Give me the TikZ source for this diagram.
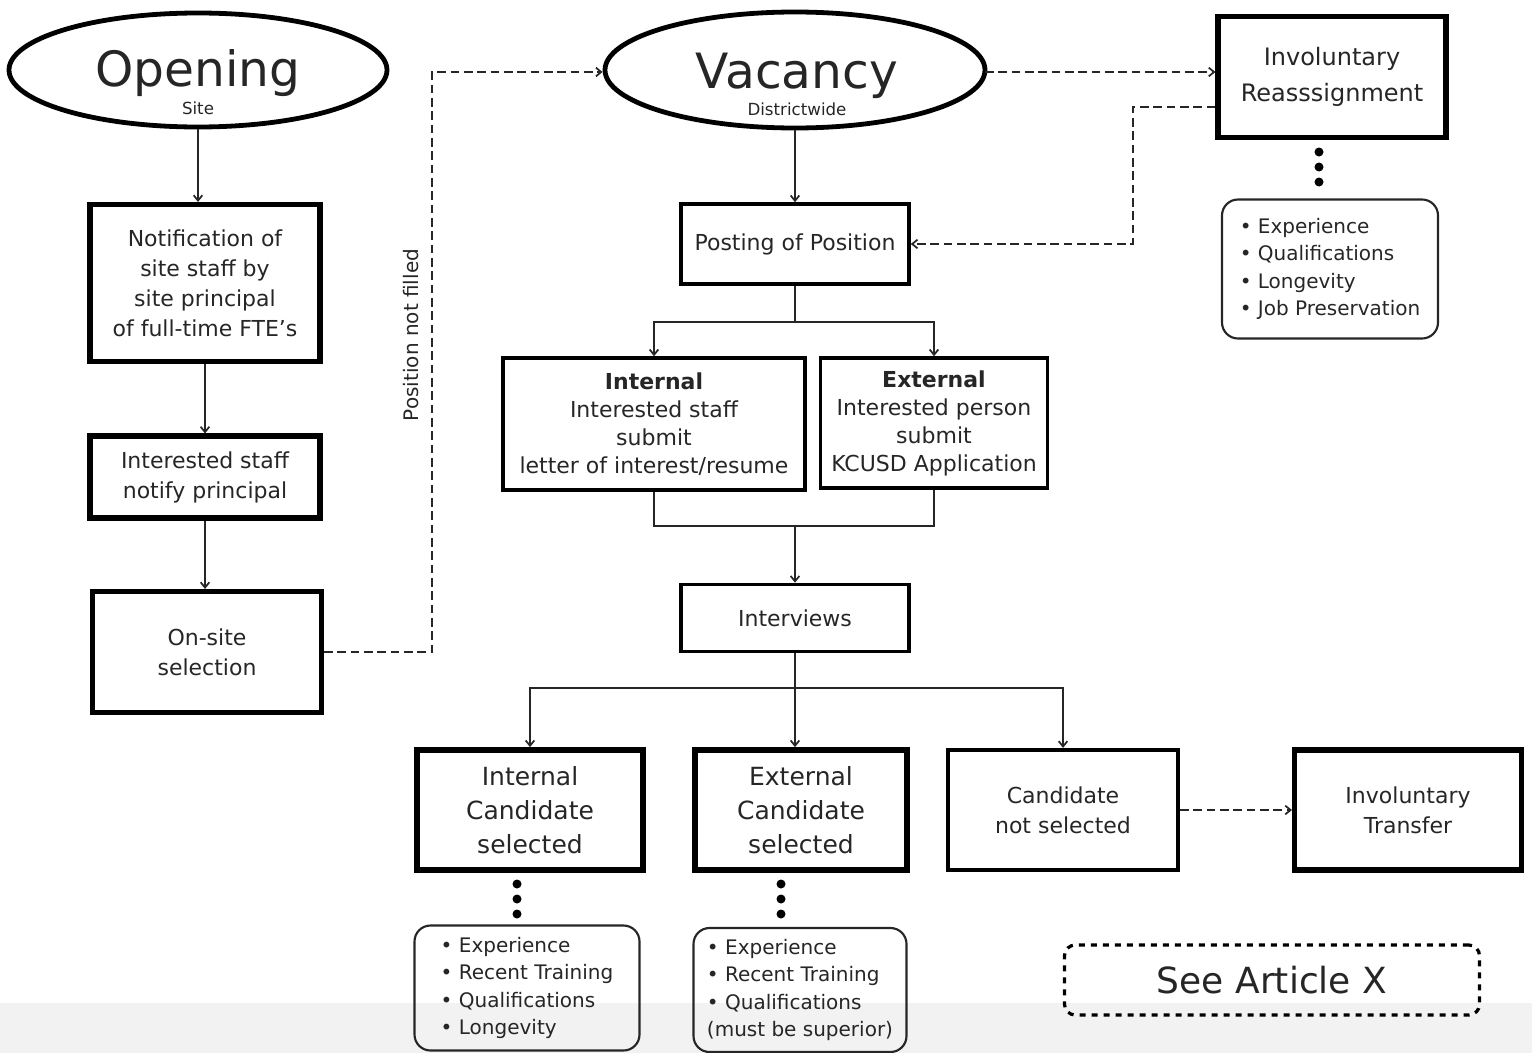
\documentclass[tikz,border=0pt]{standalone}
\usepackage{fontspec}
\setmainfont{DejaVu Sans}
\usetikzlibrary{shapes.geometric,arrows.meta}

\begin{document}
\begin{tikzpicture}[x=0.75pt,y=0.75pt,yscale=-1,xscale=1,
  every node/.style={text=black!85},
  oval/.style={draw=black,ellipse,line width=3.6pt,inner sep=0pt},
  thickbox/.style={draw=black,line width=3.8pt,inner sep=0pt,align=center},
  box/.style={draw=black,line width=2.7pt,inner sep=0pt,align=center},
  listbox/.style={draw=black!85,line width=1.6pt,rounded corners=12pt,inner sep=0pt,align=left},
  articlebox/.style={draw=black,line width=2.4pt,dash pattern=on 4.5pt off 4.5pt,rounded corners=8pt,inner sep=0pt},
  link/.style={draw=black!85,line width=1.3pt},
  arr/.style={link,-{Straight Barb[length=4pt,width=6.5pt]}},
  dasharr/.style={arr,dash pattern=on 6.5pt off 3.5pt},
  headfont/.style={font=\fontsize{36.5}{40}\selectfont},
  subfont/.style={font=\fontsize{12.5}{14}\selectfont},
  bodyfont/.style={font=\fontsize{16.5}{22.5}\selectfont},
  bigfont/.style={font=\fontsize{18}{27}\selectfont},
  candfont/.style={font=\fontsize{18.75}{25.5}\selectfont},
  listfont/.style={font=\fontsize{15}{20.6}\selectfont},
  notefont/.style={font=\fontsize{15}{18}\selectfont}
]
\useasboundingbox (0,0) rectangle (1532,1053);
%bottom band of the screenshot
\fill[black!5] (0,1003) rectangle (1532,1053);

%Shape: Ellipse
\node[oval, minimum width=283.5pt, minimum height=85.5pt] (opening) at (198,70) {};
% Text Node
\node[headfont, anchor=base] (openingtxt) at (198,86) {Opening};
% Text Node
\node[subfont, anchor=base] (sitetxt) at (198,114) {Site};

%Shape: Ellipse
\node[oval, minimum width=285pt, minimum height=87pt] (vacancy) at (795,70) {};
% Text Node
\node[headfont, anchor=base] (vacancytxt) at (797,88) {Vacancy};
% Text Node
\node[subfont, anchor=base] (districttxt) at (797,115) {Districtwide};

%Shape: Rectangle
\node[thickbox, bodyfont, minimum width=172.5pt, minimum height=117.75pt] (notif) at (205,283)
  {Notification of\\site staff by\\site principal\\of full-time FTE's};
%Shape: Rectangle
\node[thickbox, bodyfont, minimum width=172.5pt, minimum height=61.5pt] (staff) at (205,477)
  {Interested staff\\notify principal};
%Shape: Rectangle
\node[thickbox, bodyfont, minimum width=171.75pt, minimum height=90.75pt] (onsite) at (207,652)
  {On-site\\selection};

%Shape: Rectangle
\node[box, bodyfont, minimum width=171pt, minimum height=60pt] (posting) at (795,244)
  {Posting of Position};
%Shape: Rectangle
\node[box, font=\fontsize{16.5}{21}\selectfont, minimum width=226.5pt, minimum height=99pt] (internal) at (654,424)
  {\textbf{Internal}\\Interested staff\\submit\\letter of interest/resume};
%Shape: Rectangle
\node[box, font=\fontsize{16.5}{21}\selectfont, minimum width=170.25pt, minimum height=97.5pt] (external) at (934,423)
  {\textbf{External}\\Interested person\\submit\\KCUSD Application};
%Shape: Rectangle
\node[box, bodyfont, minimum width=171pt, minimum height=50.25pt] (interviews) at (795,618)
  {Interviews};

%Shape: Rectangle
\node[thickbox, bigfont, minimum width=171pt, minimum height=90.75pt] (reassign) at (1332,77)
  {Involuntary\\Reasssignment};
%Shape: Rounded Rect
\node[listbox, listfont, minimum width=162pt, minimum height=104.25pt] (reasslist) at (1330,269)
  {• Experience\\• Qualifications\\• Longevity\\• Job Preservation};

%Shape: Rectangle
\node[thickbox, candfont, line width=4.3pt, minimum width=169.5pt, minimum height=90pt] (intcand) at (530,810)
  {Internal\\Candidate\\selected};
%Shape: Rectangle
\node[thickbox, candfont, line width=4.3pt, minimum width=159pt, minimum height=90pt] (extcand) at (801,810)
  {External\\Candidate\\selected};
%Shape: Rectangle
\node[box, bodyfont, line width=3.2pt, minimum width=172.5pt, minimum height=90pt] (notsel) at (1063,810)
  {Candidate\\not selected};
%Shape: Rectangle
\node[thickbox, bodyfont, minimum width=170.25pt, minimum height=90pt] (transfer) at (1408,810)
  {Involuntary\\Transfer};

%Shape: Rounded Rect
\node[listbox, listfont, minimum width=168.75pt, minimum height=93.75pt] (intlist) at (527,988)
  {• Experience\\• Recent Training\\• Qualifications\\• Longevity};
%Shape: Rounded Rect
\node[listbox, listfont, minimum width=159.75pt, minimum height=93pt] (extlist) at (800,990)
  {• Experience\\• Recent Training\\• Qualifications\\(must be superior)};

%Shape: Rounded Rect
\node[articlebox, font=\fontsize{27}{30}\selectfont, minimum width=311.25pt, minimum height=52.5pt] (article) at (1272,980)
  {See Article X};

%Straight Lines
\draw[arr] (opening.south) -- (opening.south |- notif.north);
\draw[arr] (notif.south) -- (staff.north);
\draw[arr] (staff.south) -- (staff.south |- onsite.north);

%Dashed Lines
\coordinate (notfilled) at (432,72);
\draw[dasharr] (onsite.east) -| (notfilled) -- (notfilled -| vacancy.west);
% Text Node
\node[notefont, rotate=90] (notfilledtxt) at (411,335) {Position not filled};
\coordinate (vacout) at (985,72);
\draw[dasharr] (vacout) -- (vacout -| reassign.west);
\coordinate (reasgnback) at (1133,107);
\draw[dasharr] (reassign.west |- reasgnback) -- (reasgnback) |- (posting.east);

%Straight Lines
\draw[arr] (vacancy.south) -- (posting.north);
\draw[arr] (posting.south) -- ++(0,36) -| (internal.north);
\draw[arr] (posting.south) -- ++(0,36) -| (external.north);
\coordinate (merge) at (795,526);
\draw[link] (internal.south) |- (merge) -| (external.south);
\draw[arr] (merge) -- (interviews.north);
\coordinate (fork) at (795,688);
\draw[link] (interviews.south) -- (fork);
\draw[arr] (fork) -| (intcand.north);
\draw[arr] (fork) -- (fork |- extcand.north);
\draw[arr] (fork) -| (notsel.north);
\draw[dasharr] (notsel.east) -- (transfer.west);

%Dots
\fill[black] (1319,152) circle (4.5) (1319,167) circle (4.5) (1319,182) circle (4.5);
\fill[black] (517,884) circle (4.5) (517,899) circle (4.5) (517,914) circle (4.5);
\fill[black] (781,884) circle (4.5) (781,899) circle (4.5) (781,914) circle (4.5);

\end{tikzpicture}
\end{document}
